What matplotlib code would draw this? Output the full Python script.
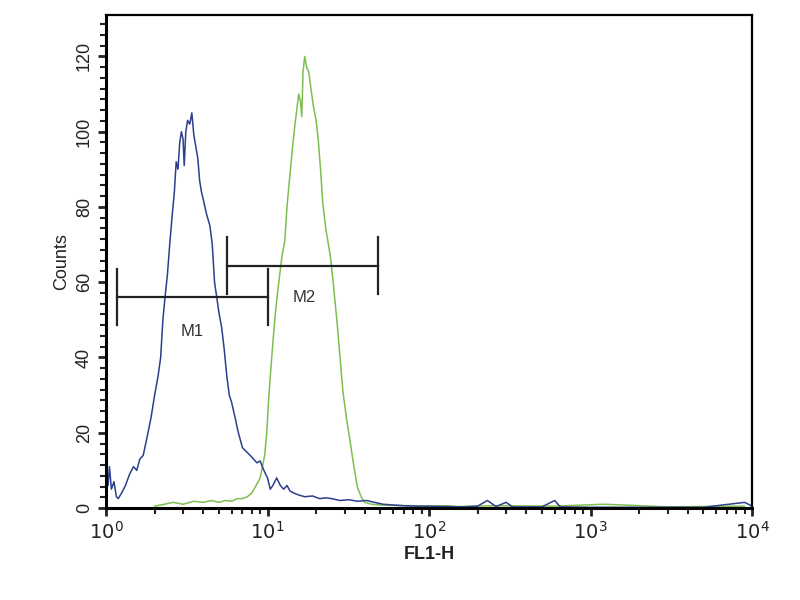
import numpy as np
import matplotlib.pyplot as plt
from matplotlib.ticker import AutoMinorLocator, LogLocator, NullFormatter, FixedLocator

plt.rcParams['font.family'] = ['Liberation Sans', 'DejaVu Sans']

# blue histogram (control)
blue_x = [1.00, 1.03, 1.05, 1.08, 1.12, 1.16, 1.19, 1.25, 1.32, 1.40, 1.48, 1.55, 1.62,
          1.70, 1.80, 1.90, 2.0, 2.1, 2.18, 2.25, 2.32, 2.40, 2.48, 2.56, 2.65, 2.72,
          2.79, 2.86, 2.93, 3.0, 3.05, 3.12, 3.2, 3.3, 3.4, 3.5, 3.6, 3.7, 3.8, 3.9,
          4.0, 4.2, 4.4, 4.55, 4.7, 4.85, 5.0, 5.2, 5.4, 5.6, 5.8, 6.0, 6.3, 6.6, 7.0,
          7.4, 7.8, 8.2, 8.6, 9.0, 9.5, 10.0, 10.4, 10.8, 11.4, 12.0, 12.6, 13.2, 13.8,
          14.5, 15.5, 17, 19, 21, 23, 25, 28, 32, 36, 41, 46, 52, 60, 70, 85, 100, 130,
          160, 200, 230, 260, 300, 330, 500, 600, 650, 1000, 2000, 5000, 9000, 10000]
blue_y = [10, 6, 11, 5, 7, 3, 2.5, 4, 6, 9, 11, 10, 13,
          14, 19, 24, 30, 35, 40, 50, 56, 62, 70, 77, 84, 92,
          90, 97, 100, 98, 91, 100, 103, 102, 105, 99, 96, 93, 87, 84,
          82, 78, 75, 70, 60, 56, 52, 48, 42, 35, 30, 28, 24, 20, 16,
          15, 14, 13, 12, 12.5, 10, 8, 5, 6, 8, 6, 5, 6, 4.5,
          4, 3.5, 3, 3.2, 2.5, 2.7, 2.5, 2, 2.2, 1.8, 2, 1.5, 1, 0.8, 0.6, 0.5, 0.5, 0.4,
          0.3, 0.5, 2, 0.4, 1.5, 0.3, 0.3, 2, 0.3, 0.2, 0.2, 0.2, 1.5, 0.5]

# green histogram (stained sample)
green_x = [2.0, 2.3, 2.6, 3.0, 3.5, 4.0, 4.5, 5.0, 5.5, 6.0, 6.5, 7.0, 7.5, 8.0, 8.5,
           9.0, 9.3, 9.6, 9.9, 10.1, 10.4, 10.8, 11.2, 11.6, 11.9, 12.3, 12.8, 13.2,
           13.8, 14.3, 14.8, 15.2, 15.6, 16.0, 16.3, 16.6, 17.0, 17.5, 18.0, 18.5,
           19.2, 20.0, 20.6, 21.3, 22.0, 23.0, 24.5, 25.5, 27.0, 28.0, 29.3, 30.8,
           32.4, 34.0, 36.0, 38.0, 40, 44, 50, 60, 80, 100, 130, 150, 250, 600,
           1200, 1600, 3000, 9000]
green_y = [0.5, 1, 1.5, 1, 1.8, 1.5, 2, 1.5, 2, 1.8, 2.5, 2.5, 3, 4, 6,
           8, 11, 14, 20, 27, 35, 44, 52, 58, 62, 67, 71, 80,
           89, 96, 102, 106, 110, 108, 104, 116, 120, 117, 116, 112,
           107, 103, 98, 90, 81, 74, 67, 60, 49, 41, 31, 24,
           18, 12, 5.6, 3, 1.5, 1, 0.8, 0.7, 0.6, 0.5, 0.6, 0.4, 0.6, 0.5,
           1, 0.8, 0.3, 0.5]

# gate markers: name, left, right, height, label position
gate_names = ['M1', 'M2']
gate_left = [1.17, 5.6]
gate_right = [10.06, 48.4]
gate_level = [56, 64.4]
label_x = [3.4, 17]
label_y = [47, 56]

fig = plt.figure(figsize=(8, 6), dpi=100)
ax = fig.add_axes([0.1325, 0.1533, 0.8075, 0.8217])

ax.plot(green_x, green_y, color='#7dbf4e', lw=1.1)
ax.plot(blue_x, blue_y, color='#2b3f8c', lw=1.1)

for name, l, r, h, lx, ly in zip(gate_names, gate_left, gate_right, gate_level, label_x, label_y):
    ax.plot([l, r], [h, h], color='#222222', lw=1.6)
    ax.plot([l, l], [h - 7.5, h + 7.5], color='#222222', lw=1.6)
    ax.plot([r, r], [h - 7.5, h + 7.5], color='#222222', lw=1.6)
    ax.text(lx, ly, name, ha='center', va='center', fontsize=12, color='#333333')

ax.set_xscale('log')
ax.set_xlim(1, 10000)
ax.set_ylim(0, 131)

ax.xaxis.set_major_locator(FixedLocator([1, 10, 100, 1000, 10000]))
ax.set_xticklabels(['$10^0$', '$10^1$', '$10^2$', '$10^3$', '$10^4$'])
ax.xaxis.set_minor_locator(LogLocator(base=10, subs=np.arange(2, 10)))
ax.xaxis.set_minor_formatter(NullFormatter())

ax.set_yticks([0, 20, 40, 60, 80, 100, 120])
ax.yaxis.set_minor_locator(AutoMinorLocator(7))
for lab in ax.get_yticklabels():
    lab.set_rotation(90)
    lab.set_va('center')

ax.tick_params(axis='x', which='major', labelsize=14)
ax.tick_params(axis='y', which='major', labelsize=13)
ax.tick_params(axis='both', which='major', direction='out', length=6, width=2,
               colors='#222222')
ax.tick_params(axis='both', which='minor', direction='out', length=4, width=1.5,
               colors='#222222')

for side in ['left', 'bottom']:
    ax.spines[side].set_linewidth(2.2)
for side in ['top', 'right']:
    ax.spines[side].set_linewidth(1.6)

ax.set_ylabel('Counts', fontsize=13, color='#222222', labelpad=4)
ax.set_xlabel('FL1-H', fontsize=13, fontweight='bold', color='#222222', labelpad=2)

fig.savefig('out.png', dpi=100)
